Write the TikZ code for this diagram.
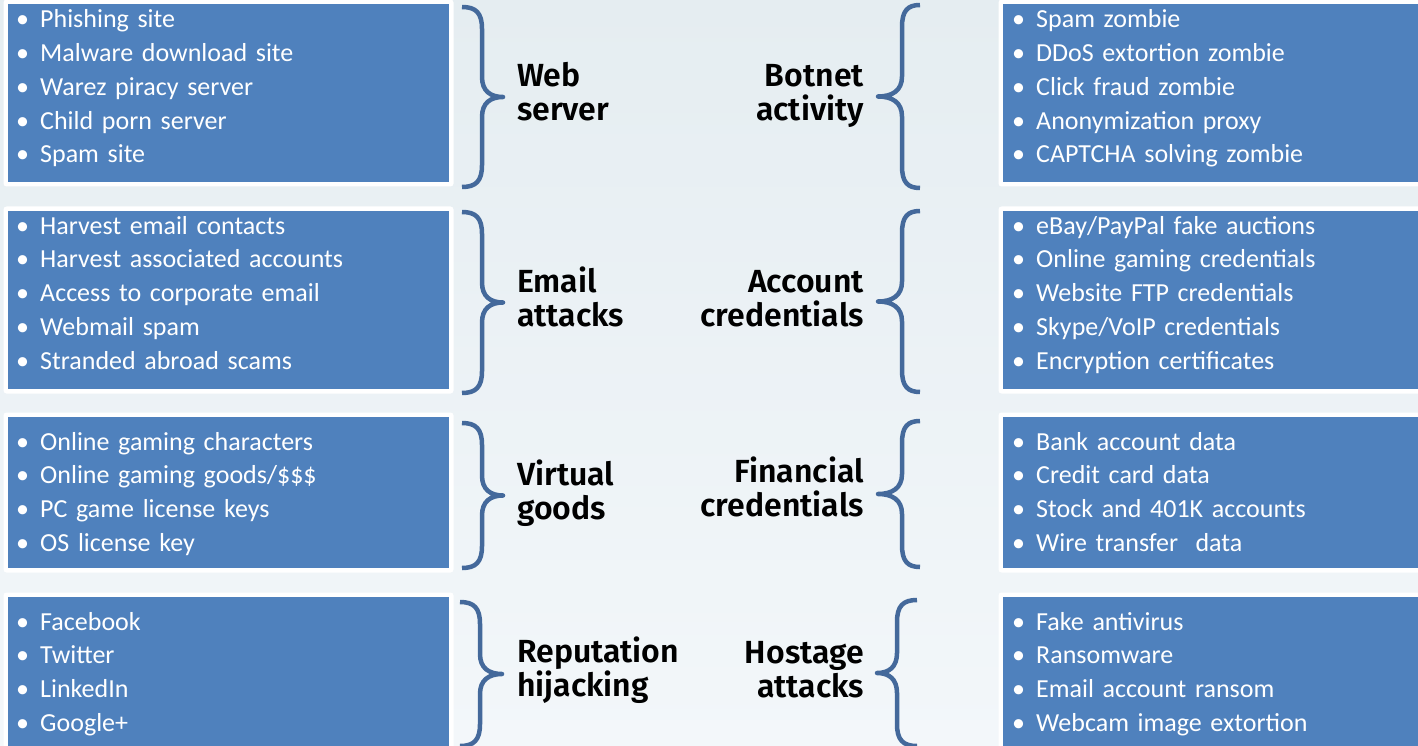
\documentclass[tikz,border=0pt]{standalone}
\usepackage{fontspec}
\setmainfont{Carlito}
\newfontfamily\labfont{Fira Sans SemiBold}
\definecolor{bgtop}{HTML}{E5EDF1}
\definecolor{bgbot}{HTML}{F3F7FA}
\definecolor{boxblue}{HTML}{4F81BD}
\definecolor{bracecol}{HTML}{44699B}
\newcommand\blt{\makebox[24pt][l]{\textbullet}}
% curly brace: end x, vertical-bar x, tip x, top y, bottom y
\newcommand\curlybrace[5]{%
  \pgfmathsetmacro\bm{(#4+#5)/2}%
  \draw[brc] (#1,#4) .. controls ({#1+0.7*(#2-#1)},#4) and (#2,{#4+6}) .. (#2,{#4+22})
    -- (#2,{\bm-20}) .. controls (#2,{\bm-6}) and ({#2+0.4*(#3-#2)},\bm) .. (#3,\bm)
    .. controls ({#2+0.4*(#3-#2)},\bm) and (#2,{\bm+6}) .. (#2,{\bm+20})
    -- (#2,{#5-22}) .. controls (#2,{#5-6}) and ({#1+0.7*(#2-#1)},#5) .. (#1,#5);}
\tikzset{
  frame/.style={fill=white, rounded corners=3pt},
  panel/.style={fill=boxblue},
  brc/.style={draw=bracecol, line width=4.5pt, line join=round},
  lst/.style={anchor=base west, inner sep=0pt, text=white, text width=400pt,
    align=left, font=\fontsize{26}{33.75}\selectfont},
  lblL/.style={anchor=base west, inner sep=0pt, text width=220pt, align=left,
    font=\labfont\fontsize{32}{34}\selectfont},
  lblR/.style={anchor=base east, inner sep=0pt, text width=220pt, align=right,
    font=\labfont\fontsize{32}{34}\selectfont},
}
\begin{document}
\begin{tikzpicture}[x=1pt,y=-1pt]
\useasboundingbox (0,0) rectangle (1418,746);
\clip (0,0) rectangle (1418,746);
\shade[top color=bgtop, bottom color=bgbot] (0,0) rectangle (1418,746);

% panels: white frame with blue face
\foreach \t/\b in {4/182, 211/389, 417/568, 597/770}{
  \fill[frame] (3.5,\t-4.5) rectangle (453.5,\b+4.5);
  \fill[panel] (8,\t) rectangle (449,\b);
  \fill[frame] (998.5,\t-4.5) rectangle (1440,\b+4.5);
  \fill[panel] (1003,\t) rectangle (1440,\b);
}

% left lists
\node[lst] (l1) at (16,28) {\blt Phishing site\\\blt Malware download site\\\blt Warez piracy server\\\blt Child porn server\\\blt Spam site};
\node[lst] (l2) at (16,234) {\blt Harvest email contacts\\\blt Harvest associated accounts\\\blt Access to corporate email\\\blt Webmail spam\\\blt Stranded abroad scams};
\node[lst] (l3) at (16,450) {\blt Online gaming characters\\\blt Online gaming goods/\$\$\$\\\blt PC game license keys\\\blt OS license key};
\node[lst] (l4) at (16,630) {\blt Facebook\\\blt Twitter\\\blt LinkedIn\\\blt Google+};

% right lists
\node[lst] (r1) at (1012,28) {\blt Spam zombie\\\blt DDoS extortion zombie\\\blt Click fraud zombie\\\blt Anonymization proxy\\\blt CAPTCHA solving zombie};
\node[lst] (r2) at (1012,234) {\blt eBay/PayPal fake auctions\\\blt Online gaming credentials\\\blt Website FTP credentials\\\blt Skype/VoIP credentials\\\blt Encryption certificates};
\node[lst] (r3) at (1012,450) {\blt Bank account data\\\blt Credit card data\\\blt Stock and 401K accounts\\\blt Wire transfer\ \ data};
\node[lst] (r4) at (1012,630) {\blt Fake antivirus\\\blt Ransomware\\\blt Email account ransom\\\blt Webcam image extortion};

% braces
\curlybrace{462}{482}{503}{7}{187}
\curlybrace{462}{482}{503}{212}{393}
\curlybrace{462}{482}{503}{423}{568}
\curlybrace{460}{480}{502}{602}{746}
\curlybrace{920}{902}{878}{5}{188}
\curlybrace{920}{902}{878}{211}{392}
\curlybrace{920}{902}{878}{421}{567}
\curlybrace{917}{897}{877}{600}{746}

% category labels
\node[lblL] (c1) at (517,87) {Web\\server};
\node[lblL] (c2) at (517,292) {Email\\attacks};
\node[lblL] (c3) at (517,485) {Virtual\\goods};
\node[lblL] (c4) at (517,662) {Reputation\\hijacking};
\node[lblR] (c5) at (864,87) {Botnet\\activity};
\node[lblR] (c6) at (864,292) {Account\\credentials};
\node[lblR] (c7) at (864,482) {Financial\\credentials};
\node[lblR] (c8) at (864,663) {Hostage\\attacks};
\end{tikzpicture}
\end{document}
